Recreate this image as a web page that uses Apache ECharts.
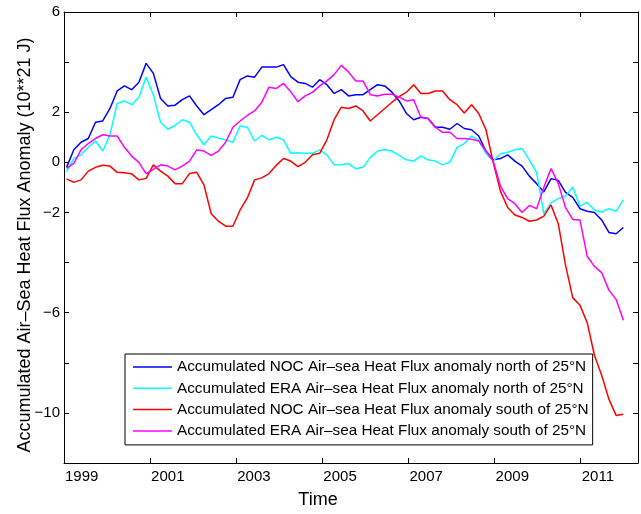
<!DOCTYPE html>
<html>
<head>
<meta charset="utf-8">
<script src="https://cdn.jsdelivr.net/npm/echarts@6/dist/echarts.min.js"></script>
<style>
html, body { margin: 0; padding: 0; background: #fff; }
#main { width: 641px; height: 514px; }
</style>
</head>
<body>
<div id="main"></div>
<script>
// time grid: regular steps from start to end (decimal years)
var startYear = 1999.06, endYear = 2011.99;

var nocNorth = [-0.2, 0.5, 0.8, 0.95, 1.6, 1.65, 2.15, 2.85, 3.05, 2.9, 3.2, 3.95, 3.55, 2.55, 2.25, 2.28, 2.5, 2.65, 2.25, 1.9,
  2.1, 2.3, 2.55, 2.6, 3.3, 3.45, 3.4, 3.8, 3.8, 3.8, 3.9, 3.42, 3.2, 3.15, 3.0, 3.3, 3.1, 2.75, 2.9, 2.65,
  2.7, 2.7, 2.9, 3.1, 3.05, 2.8, 2.45, 1.95, 1.7, 1.8, 1.75, 1.4, 1.4, 1.32, 1.55, 1.35, 1.3, 1.05, 0.45, 0.1,
  0.15, 0.3, 0.05, -0.15, -0.55, -0.85, -1.18, -0.65, -0.72, -1.2, -1.4, -1.85, -1.95, -2.0, -2.3, -2.8, -2.85, -2.6];
var eraNorth = [-0.37, 0.15, 0.3, 0.6, 0.85, 0.45, 1.1, 2.35, 2.45, 2.3, 2.6, 3.4, 2.7, 1.6, 1.32, 1.47, 1.7, 1.6, 1.1, 0.7,
  1.05, 0.97, 0.9, 0.8, 1.45, 1.4, 0.85, 1.08, 0.9, 1.0, 0.9, 0.36, 0.38, 0.36, 0.36, 0.5, 0.3, -0.1, -0.1, -0.05,
  -0.26, -0.2, 0.2, 0.45, 0.5, 0.45, 0.28, 0.1, 0.05, 0.26, 0.1, 0.05, -0.1, 0.0, 0.6, 0.75, 1.05, 0.88, 0.35, 0.05,
  0.34, 0.4, 0.5, 0.55, 0.1, -0.4, -2.05, -1.62, -1.45, -1.35, -0.98, -1.75, -1.6, -1.9, -1.98, -1.85, -1.95, -1.5];
var nocSouth = [-0.66, -0.8, -0.7, -0.35, -0.2, -0.12, -0.15, -0.4, -0.42, -0.46, -0.7, -0.64, -0.1, -0.35, -0.55, -0.85, -0.85, -0.45, -0.4, -0.9,
  -2.05, -2.35, -2.55, -2.55, -1.9, -1.42, -0.7, -0.62, -0.45, -0.12, 0.15, 0.05, -0.17, 0.0, 0.3, 0.36, 0.9, 1.7, 2.2, 2.15,
  2.25, 2.05, 1.65, 1.9, 2.15, 2.4, 2.62, 2.8, 3.1, 2.75, 2.75, 2.85, 2.85, 2.5, 2.3, 1.97, 2.3, 1.95, 1.3, 0.0,
  -1.15, -1.8, -2.1, -2.2, -2.35, -2.3, -2.15, -1.7, -2.45, -4.1, -5.4, -5.7, -6.4, -7.7, -8.5, -9.45, -10.1, -10.05];
var eraSouth = [-0.24, -0.04, 0.5, 0.75, 0.95, 1.1, 1.05, 1.05, 0.6, 0.25, 0.0, -0.45, -0.28, -0.1, -0.15, -0.3, -0.15, 0.05, 0.5, 0.45,
  0.28, 0.45, 0.8, 1.4, 1.65, 1.87, 2.05, 2.4, 3.0, 2.95, 3.15, 2.82, 2.42, 2.65, 2.79, 3.05, 3.25, 3.5, 3.87, 3.6,
  3.25, 3.25, 2.7, 2.65, 2.72, 2.72, 2.6, 2.45, 2.5, 1.8, 1.75, 1.4, 1.2, 1.2, 0.95, 0.95, 0.92, 0.85, 0.45, 0.05,
  -0.95, -1.45, -1.65, -2.0, -1.72, -1.85, -1.0, -0.25, -0.85, -1.8, -2.28, -2.3, -3.75, -4.15, -4.4, -5.1, -5.47, -6.3];

var seriesNames = [
  'Accumulated NOC Air\u2013sea Heat Flux anomaly north of 25\u00b0N',
  'Accumulated ERA Air\u2013sea Heat Flux anomaly north of 25\u00b0N',
  'Accumulated NOC Air\u2013sea Heat Flux anomaly south of 25\u00b0N',
  'Accumulated ERA Air\u2013sea Heat Flux anomaly south of 25\u00b0N'
];
var seriesColors = ['#0000ff', '#00ffff', '#ff0000', '#ff00ff'];
var xTickLabels = [1999, 2001, 2003, 2005, 2007, 2009, 2011];
var yTickLabels = [6, 2, 0, -2, -6, -10];

var years = [];
for (var k = 0; k < nocNorth.length; k++) {
  years.push(startYear + k * (endYear - startYear) / (nocNorth.length - 1));
}
function pairs(vals) {
  return vals.map(function (v, i) { return [years[i], v]; });
}

var font = "'Liberation Sans', Arial, sans-serif";
var black = '#000';

var chart = echarts.init(document.getElementById('main'));

function xAx(pos, labels) {
  return {
    type: 'value',
    position: pos,
    min: 1999,
    max: 2012.33,
    interval: 2,
    splitLine: { show: false },
    axisLine: { show: true, onZero: false, lineStyle: { color: black, width: 1 } },
    axisTick: { show: true, inside: true, length: 5, lineStyle: { color: black } },
    axisLabel: {
      show: labels,
      align: 'left',
      margin: 6,
      fontFamily: font,
      fontSize: 15,
      color: black,
      padding: [0, 0, 0, 1],
      formatter: function (v) {
        return xTickLabels.indexOf(Math.round(v * 100) / 100) >= 0 ? String(v) : '';
      }
    }
  };
}
function yAx(pos, labels) {
  return {
    type: 'value',
    position: pos,
    min: -12,
    max: 6,
    interval: 2,
    splitLine: { show: false },
    axisLine: { show: true, onZero: false, lineStyle: { color: black, width: 1 } },
    axisTick: { show: true, inside: true, length: 5, lineStyle: { color: black } },
    axisLabel: {
      show: labels,
      margin: 4,
      fontFamily: font,
      fontSize: 15,
      color: black,
      formatter: function (v) {
        if (yTickLabels.indexOf(v) < 0) return '';
        return v < 0 ? '\u2212' + Math.abs(v) : String(v);
      }
    }
  };
}

var xBottom = xAx('bottom', true);
xBottom.name = 'Time';
xBottom.nameLocation = 'middle';
xBottom.nameGap = 28;
xBottom.nameMoveOverlap = false;
xBottom.nameTextStyle = { fontFamily: font, fontSize: 18, color: black, padding: [0, 66, 0, 0] };

var yLeft = yAx('left', true);
yLeft.name = 'Accumulated Air\u2013Sea Heat Flux Anomaly (10**21 J)';
yLeft.nameLocation = 'middle';
yLeft.nameGap = 30;
yLeft.nameMoveOverlap = false;
yLeft.nameTextStyle = { fontFamily: font, fontSize: 18, color: black, padding: [0, 15, 0, 0] };

var series = [nocNorth, eraNorth, nocSouth, eraSouth].map(function (vals, i) {
  return {
    name: seriesNames[i],
    type: 'line',
    xAxisIndex: 0,
    yAxisIndex: 0,
    data: pairs(vals),
    symbol: 'none',
    showSymbol: false,
    color: seriesColors[i],
    lineStyle: { color: seriesColors[i], width: 1.5 }
  };
});

chart.setOption({
  animation: false,
  backgroundColor: '#fff',
  grid: { left: 64, right: 2, top: 12, bottom: 47 },
  xAxis: [xBottom, xAx('top', false)],
  yAxis: [yLeft, yAx('right', false)],
  legend: {
    orient: 'vertical',
    left: 125,
    top: 354,
    data: seriesNames,
    selectedMode: false,
    icon: 'rect',
    itemWidth: 39,
    itemHeight: 1.5,
    itemGap: 5.3,
    padding: [5, 4, 6, 8],
    borderColor: black,
    borderWidth: 1,
    backgroundColor: '#fff',
    borderRadius: 0,
    textStyle: { fontFamily: font, fontSize: 15.3, lineHeight: 16, color: black }
  },
  series: series
});
</script>
</body>
</html>
